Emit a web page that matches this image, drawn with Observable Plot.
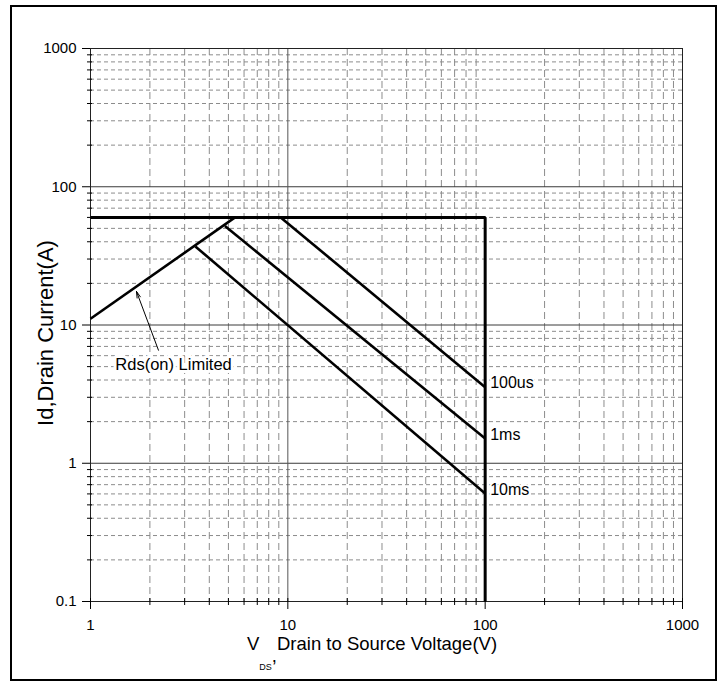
<!DOCTYPE html>
<html><head><meta charset="utf-8">
<script src="https://cdn.jsdelivr.net/npm/d3@7"></script>
<script src="https://cdn.jsdelivr.net/npm/@observablehq/plot@0.6"></script>
<style>
body{margin:0;background:#fff;}
#wrap{position:relative;width:724px;height:684px;overflow:hidden;}
#border{position:absolute;left:10px;top:5px;width:703px;height:672px;border:2px solid #000;pointer-events:none;}
#chart svg text{font-family:"Liberation Sans",Arial,sans-serif;}
g[aria-label="ylabel"] text{letter-spacing:2.4px;}
</style></head><body>
<div id="wrap"><div id="chart"></div><div id="border"></div></div>
<script>
// tick values
const xMajor = [1, 10, 100, 1000];
const xMajorLabels = ["1", "10", "100", "1000"];
const yMajor = [0.1, 1, 10, 100, 1000];
const yMajorLabels = ["0.1", "1", "10", "100", "1000"];
const xMinor = [2,3,4,5,6,7,8,9,20,30,40,50,60,70,80,90,200,300,400,500,600,700,800,900];
const yMinor = [0.2,0.3,0.4,0.5,0.6,0.7,0.8,0.9,2,3,4,5,6,7,8,9,20,30,40,50,60,70,80,90,200,300,400,500,600,700,800,900];

// curves (VDS in V, Id in A)
const limitV = [1, 100, 100];
const limitI = [60, 60, 0.1];
const rdsV = [1, 5.4];
const rdsI = [11.1, 60];
const us100V = [9.2, 100];
const us100I = [60, 3.55];
const ms1V = [4.8, 100];
const ms1I = [52, 1.51];
const ms10V = [3.4, 100];
const ms10I = [37, 0.605];
const curveNames = ["100us", "1ms", "10ms"];
const curveEndV = [100, 100, 100];
const curveEndI = [3.55, 1.51, 0.605];

const rdsLabel = ["Rds(on) Limited"];
const rdsLabelV = [2.635], rdsLabelI = [5.12];
const arrowFromV = [2.21], arrowFromI = [6.57];
const arrowToV = [1.71], arrowToI = [17.5];

const lineOpts = {stroke: "#000", strokeWidth: 2.6, strokeLinecap: "butt", strokeLinejoin: "miter"};
const blank = () => "";

const chart = Plot.plot({
  width: 724, height: 684,
  marginLeft: 90, marginRight: 42, marginTop: 48, marginBottom: 83,
  x: {type: "log", domain: [1, 1000]},
  y: {type: "log", domain: [0.1, 1000]},
  style: {background: "transparent", color: "#000"},
  marks: [
    Plot.ruleY(yMinor, {stroke: "#8c8c8c", strokeDasharray: "4,3"}),
    Plot.ruleX(xMinor, {stroke: "#8c8c8c", strokeDasharray: "7,4"}),
    Plot.ruleY(yMajor.slice(1, -1), {stroke: "#3a3a3a"}),
    Plot.ruleX([10], {stroke: "#555"}),
    Plot.frame({stroke: "#222"}),
    Plot.axisY(yMinor, {tickSize: 5, dx: 2, tickFormat: blank, label: null, stroke: "#000"}),
    Plot.axisY(yMajor, {tickSize: 8, tickPadding: 6, fontSize: 15, tickFormat: (d) => yMajorLabels[yMajor.indexOf(d)], label: null, stroke: "#000", ariaLabel: "ytick"}),
    Plot.axisX(xMinor, {tickSize: 7, dy: -3, tickFormat: blank, label: null, stroke: "#000"}),
    Plot.axisX(xMajor, {tickSize: 11, dy: -3, tickPadding: 10, fontSize: 15, tickFormat: (d) => xMajorLabels[xMajor.indexOf(d)], label: null, stroke: "#000", ariaLabel: "xtick"}),
    Plot.text(["Id,Drain Current(A)"], {frameAnchor: "left", textAnchor: "middle", rotate: -90, dx: -45, dy: 8, fontSize: 22, ariaLabel: "ylabel"}),
    Plot.text(rdsLabel, {x: rdsLabelV, y: rdsLabelI, fontSize: 16.5, stroke: "white", strokeWidth: 6, paintOrder: "stroke", fill: "#000"}),
    Plot.text(curveNames, {x: curveEndV, y: curveEndI, dx: 5, dy: -4, textAnchor: "start", fontSize: 16, stroke: "white", strokeWidth: 4, paintOrder: "stroke", fill: "#000"}),
    Plot.arrow([0], {x1: arrowFromV, y1: arrowFromI, x2: arrowToV, y2: arrowToI, stroke: "#000", strokeWidth: 1, headLength: 10, headAngle: 30}),
    Plot.line(limitV, {x: limitV, y: limitI, ...lineOpts, strokeWidth: 3}),
    Plot.line(rdsV, {x: rdsV, y: rdsI, ...lineOpts}),
    Plot.line(us100V, {x: us100V, y: us100I, ...lineOpts}),
    Plot.line(ms1V, {x: ms1V, y: ms1I, ...lineOpts}),
    Plot.line(ms10V, {x: ms10V, y: ms10I, ...lineOpts})
  ]
});
document.getElementById("chart").appendChild(chart);

// x-axis title with subscript
const t = d3.select(chart).append("text")
  .attr("x", 247).attr("y", 650)
  .attr("text-anchor", "start")
  .attr("font-size", 18.5)
  .attr("fill", "#000");
t.append("tspan").text("V");
t.append("tspan").attr("font-size", 9).attr("dy", 20).text("DS");
t.append("tspan").attr("dy", -8).text(",");
t.append("tspan").attr("dy", -12).text("Drain to Source Voltage(V)");
</script>
</body></html>
